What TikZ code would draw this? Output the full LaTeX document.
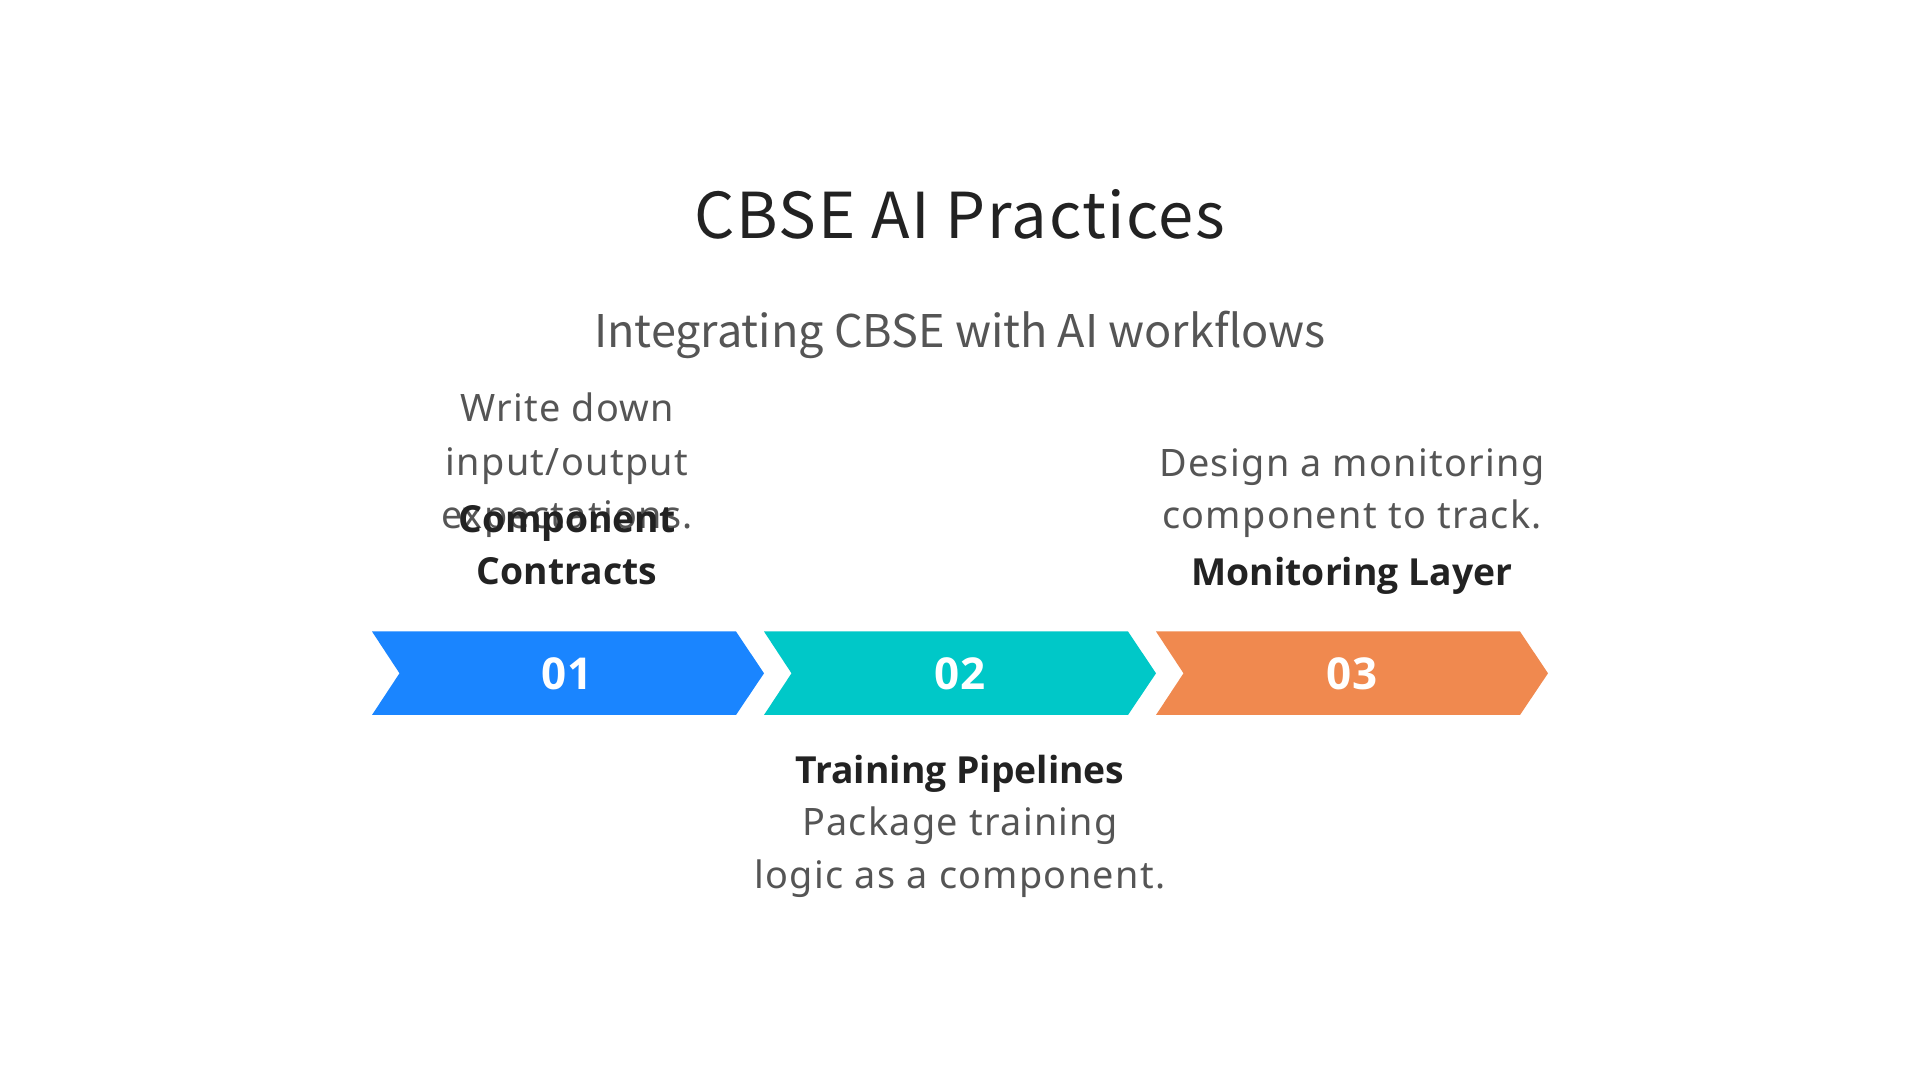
\documentclass[tikz,border=0pt]{standalone}
\usepackage{fontspec}
\setmainfont{Noto Sans}
\newfontfamily\headfont[LetterSpace=2.5]{Noto Sans CJK SC}
\newfontfamily\subfont{Noto Sans CJK SC}
\newfontfamily\descfont[LetterSpace=3.5]{Noto Sans}
\newfontfamily\boldfont{Open Sans}
\definecolor{cblue}{HTML}{1A85FF}
\definecolor{cteal}{HTML}{00C8C8}
\definecolor{corange}{HTML}{F0894F}
\definecolor{tdark}{HTML}{222222}
\definecolor{tgray}{HTML}{555555}
\begin{document}
\begin{tikzpicture}[x=0.01cm,y=-0.01cm,
  titletext/.style={anchor=base,inner sep=0pt,text=tdark,font=\headfont\fontsize{18}{22}\selectfont},
  subtext/.style={anchor=base,inner sep=0pt,text=tgray,font=\subfont\fontsize{12.8}{15}\selectfont},
  desctext/.style={anchor=base,inner sep=0pt,text=tgray,font=\descfont\fontsize{10.75}{13}\selectfont},
  headtext/.style={anchor=base,inner sep=0pt,text=tdark,font=\boldfont\bfseries\fontsize{10.6}{13}\selectfont},
  numtext/.style={anchor=base,inner sep=0pt,text=white,font=\boldfont\bfseries\fontsize{12.5}{15}\selectfont},
  chevron/.style={draw=none}]
\useasboundingbox[fill=white] (0,0) rectangle (1920,1080);
% title
\node[titletext] (title) at (960,238.5) {CBSE AI Practices};
\node[subtext] (subtitle) at (960,347.7) {Integrating CBSE with AI workflows};
% chevrons
\fill[cblue,chevron] (372,631.5) -- (736,631.5) -- (764,673.3) -- (736,715) -- (372,715) -- (399.5,673.3) -- cycle;
\fill[cteal,chevron] (764,631.5) -- (1128,631.5) -- (1156,673.3) -- (1128,715) -- (764,715) -- (791.5,673.3) -- cycle;
\fill[corange,chevron] (1156,631.5) -- (1520,631.5) -- (1548,673.3) -- (1520,715) -- (1156,715) -- (1183.5,673.3) -- cycle;
\node[numtext] (n1) at (567,690) {01};
\node[numtext] (n2) at (960,690) {02};
\node[numtext] (n3) at (1352,690) {03};
% column 1
\node[desctext] (d1a) at (567,422) {Write down};
\node[desctext] (d1b) at (567,476) {input/output};
\node[desctext] (d1c) at (567,529) {expectations.};
\node[headtext] (h1a) at (567,533) {Component};
\node[headtext] (h1b) at (567,585) {Contracts};
% column 2
\node[headtext] (h2) at (960,783.5) {Training Pipelines};
\node[desctext] (d2a) at (960,836) {Package training};
\node[desctext] (d2b) at (960,888.5) {logic as a component.};
% column 3
\node[desctext] (d3a) at (1352,476.5) {Design a monitoring};
\node[desctext] (d3b) at (1352,529) {component to track.};
\node[headtext] (h3) at (1352,585.5) {Monitoring Layer};
\end{tikzpicture}
\end{document}
